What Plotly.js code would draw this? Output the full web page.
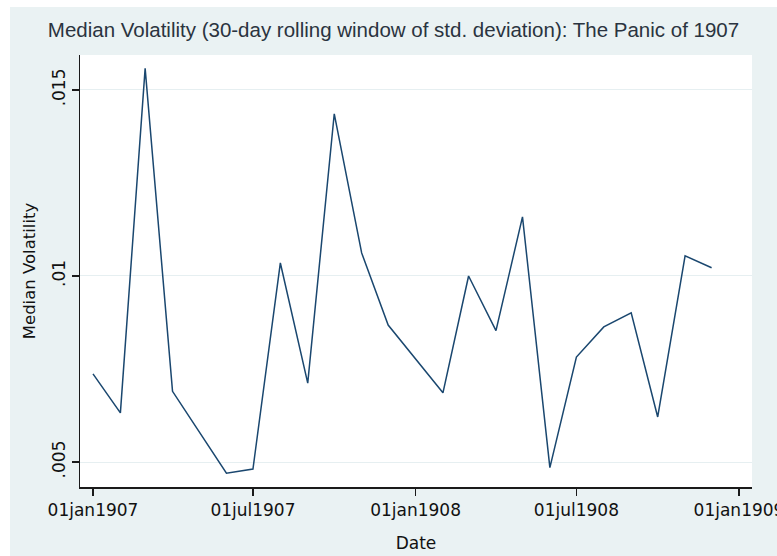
<!DOCTYPE html>
<html>
<head>
<meta charset="utf-8">
<script src="https://cdn.plot.ly/plotly-3.0.1.min.js"></script>
<style>
  html, body { margin: 0; padding: 0; background: #ffffff; }
  #chart { position: absolute; left: 10px; top: 7px; width: 767px; height: 549px; }
</style>
</head>
<body>
<div id="chart"></div>
<script>
// Monthly observation dates (first of month)
const dates = [
  "1907-01-01","1907-02-01","1907-03-01","1907-04-01","1907-06-01","1907-07-01",
  "1907-08-01","1907-09-01","1907-10-01","1907-11-01","1907-12-01",
  "1908-02-01","1908-03-01","1908-04-01","1908-05-01","1908-06-01","1908-07-01",
  "1908-08-01","1908-09-01","1908-10-01","1908-11-01","1908-12-01"
];
// Median volatility values
const volatility = [
  0.00737, 0.00632, 0.01558, 0.00690, 0.00470, 0.00481,
  0.01035, 0.00712, 0.01436, 0.01062, 0.00868,
  0.00686, 0.01000, 0.00853, 0.01159, 0.00485, 0.00782,
  0.00863, 0.00901, 0.00621, 0.01054, 0.01022
];
const xTickVals = ["1907-01-01","1907-07-01","1908-01-01","1908-07-01","1909-01-01"];
const xTickText = ["01jan1907","01jul1907","01jan1908","01jul1908","01jan1909"];
const yTickVals = [0.005, 0.01, 0.015];
const yTickText = [".005", ".01", ".015"];

const trace = {
  x: dates,
  y: volatility,
  type: "scatter",
  mode: "lines",
  line: { color: "#1a476f", width: 1.5 },
  hoverinfo: "skip"
};

const tickFont = { family: "DejaVu Sans, sans-serif", size: 17, color: "#111111" };

const layout = {
  width: 767,
  height: 549,
  paper_bgcolor: "#eaf2f3",
  plot_bgcolor: "#ffffff",
  margin: { l: 70, r: 25, t: 48, b: 69 },
  showlegend: false,
  title: {
    text: "Median Volatility (30-day rolling window of std. deviation): The Panic of 1907",
    font: { family: "Liberation Sans, Arial, sans-serif", size: 20.5, color: "#2a3440" },
    x: 0.5, xref: "container", xanchor: "center",
    y: 1 - 23 / 549, yref: "container", yanchor: "middle"
  },
  xaxis: {
    type: "date",
    range: ["1906-12-17 07:00", "1909-01-15 17:00"],
    tickmode: "array",
    tickvals: xTickVals,
    ticktext: xTickText,
    tickfont: tickFont,
    ticklabeloverflow: "allow",
    showgrid: false,
    zeroline: false,
    showline: true,
    linecolor: "#1a1a1a",
    linewidth: 1.5,
    ticks: "outside",
    ticklen: 7,
    tickwidth: 1.5,
    tickcolor: "#1a1a1a",
    title: { text: "Date", font: { family: "DejaVu Sans, sans-serif", size: 17, color: "#111111" }, standoff: 18 }
  },
  yaxis: {
    range: [0.004328, 0.01594],
    tickmode: "array",
    tickvals: yTickVals,
    ticktext: yTickText,
    tickangle: -90,
    tickfont: tickFont,
    showgrid: true,
    gridcolor: "#e6eff1",
    gridwidth: 1,
    zeroline: false,
    showline: true,
    linecolor: "#1a1a1a",
    linewidth: 1.5,
    ticks: "outside",
    ticklen: 7,
    tickwidth: 1.5,
    tickcolor: "#1a1a1a",
    title: { text: "Median Volatility", font: { family: "DejaVu Sans, sans-serif", size: 16.5, color: "#111111" }, standoff: 9 }
  }
};

Plotly.newPlot("chart", [trace], layout, { staticPlot: true, displayModeBar: false });
</script>
</body>
</html>
